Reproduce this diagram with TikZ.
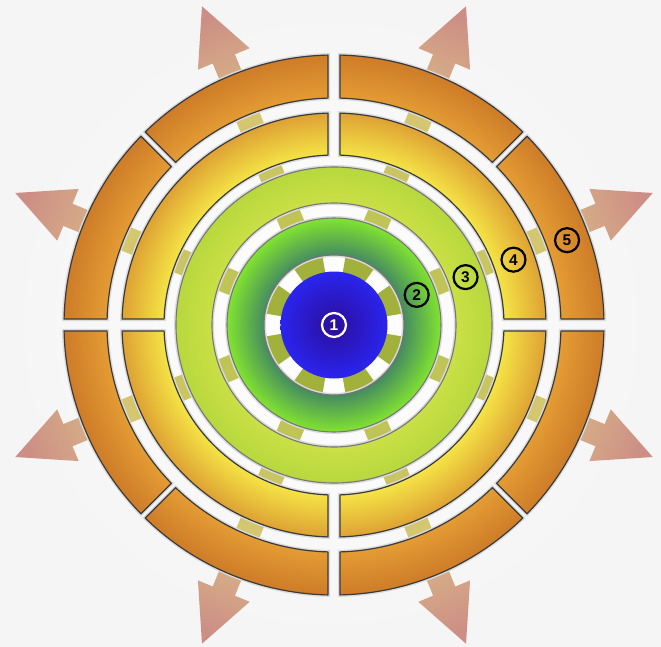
\documentclass[tikz,border=0pt]{standalone}
\usepackage{fontspec}
\setmainfont{Liberation Sans}
\usetikzlibrary{calc}
\definecolor{orIn}{RGB}{228,156,52}
\definecolor{orOut}{RGB}{206,124,40}
\definecolor{yeIn}{RGB}{245,228,70}
\definecolor{yeOut}{RGB}{222,162,52}
\definecolor{lgIn}{RGB}{202,224,70}
\definecolor{lgOut}{RGB}{184,216,62}
\definecolor{dgIn}{RGB}{70,140,96}
\definecolor{dgOut}{RGB}{128,226,48}
\definecolor{blIn}{RGB}{44,14,156}
\definecolor{blOut}{RGB}{42,36,238}
\definecolor{olive1}{RGB}{162,176,60}
\definecolor{spIn}{RGB}{190,196,84}
\definecolor{spOut}{RGB}{218,198,118}
\definecolor{arIn}{RGB}{210,166,116}
\definecolor{arOut}{RGB}{198,124,114}
\definecolor{segline}{RGB}{58,58,58}
\definecolor{ringline}{RGB}{118,118,118}
\pgfdeclareradialshading{orR}{\pgfpoint{0bp}{0bp}}{color(0bp)=(orIn); color(226bp)=(orIn); color(269bp)=(orOut); color(276bp)=(orOut)}
\pgfdeclareradialshading{yeR}{\pgfpoint{0bp}{0bp}}{color(0bp)=(yeIn); color(169bp)=(yeIn); color(211bp)=(yeOut); color(216bp)=(yeOut)}
\pgfdeclareradialshading{lgR}{\pgfpoint{0bp}{0bp}}{color(0bp)=(lgIn); color(121bp)=(lgIn); color(157bp)=(lgOut); color(162bp)=(lgOut)}
\pgfdeclareradialshading{dgR}{\pgfpoint{0bp}{0bp}}{color(0bp)=(dgIn); color(70bp)=(dgIn); color(106bp)=(dgOut); color(112bp)=(dgOut)}
% segment: #1 start angle, #2 end angle, #3 inner r, #4 outer r, #5 start half gap, #6 end half gap
\newcommand\ringseg[6]{({#1+asin(#5/#3)}:#3pt) -- ({#1+asin(#5/#4)}:#4pt)
  arc[start angle={#1+asin(#5/#4)}, end angle={#2-asin(#6/#4)}, radius=#4pt]
  -- ({#2-asin(#6/#3)}:#3pt)
  arc[start angle={#2-asin(#6/#3)}, end angle={#1+asin(#5/#3)}, radius=#3pt] -- cycle }
\newcommand\yellowsegs{\ringseg{0}{90}{170}{212}{6}{6} \ringseg{90}{180}{170}{212}{6}{6}
  \ringseg{180}{270}{170}{212}{6}{6} \ringseg{270}{360}{170}{212}{6}{6}}
\newcommand\orangesegs{\ringseg{0}{45}{227}{270}{6}{3} \ringseg{45}{90}{227}{270}{3}{6}
  \ringseg{90}{135}{227}{270}{6}{3} \ringseg{135}{180}{227}{270}{3}{6}
  \ringseg{180}{225}{227}{270}{6}{3} \ringseg{225}{270}{227}{270}{3}{6}
  \ringseg{270}{315}{227}{270}{6}{3} \ringseg{315}{360}{227}{270}{3}{6}}
\tikzset{
  halo/.style={draw=black!14, line width=4pt},
  seglinestyle/.style={draw=segline, line width=1.2pt, line join=round},
  ringlinestyle/.style={draw=ringline, line width=1.1pt},
  numlabel/.style={circle, draw=black, line width=2.2pt, inner sep=0pt, minimum size=24pt,
    font=\bfseries\fontsize{15.5}{15.5}\selectfont, text=black},
  centerlabel/.style={numlabel, draw=white, text=white}
}
\begin{document}
\begin{tikzpicture}[x=1pt,y=1pt]
\useasboundingbox (-334,-321) rectangle (327,325);
\shade[inner color=white, outer color=black!4] (-334,-321) rectangle (327,325);

% spokes in the gaps
\foreach \t [evaluate=\t as \sa using \t-90] in {22.5,67.5,...,337.5}{
  \shade[bottom color=spIn, top color=spOut, shading angle=\sa]
    ($(\t:95pt)+(\t+90:12.5pt)$) -- ($(\t:258pt)+(\t+90:12.5pt)$)
    -- ($(\t:258pt)+(\t-90:12.5pt)$) -- ($(\t:95pt)+(\t-90:12.5pt)$) -- cycle;
}
% arrows
\foreach \t [evaluate=\t as \sa using \t-90] in {22.5,67.5,...,337.5}{
  \shade[bottom color=arIn, top color=arOut, shading angle=\sa, opacity=0.85]
    ($(\t:252pt)+(\t+90:12pt)$) -- ($(\t:288pt)+(\t+90:12pt)$)
    -- ($(\t:288pt)+(\t+90:28pt)$) -- (\t:345pt)
    -- ($(\t:288pt)+(\t-90:28pt)$) -- ($(\t:288pt)+(\t-90:12pt)$)
    -- ($(\t:252pt)+(\t-90:12pt)$) -- cycle;
}

% inner olive wedges around the core
\foreach \t in {22.5,67.5,...,337.5}{
  \fill[olive1] (\t-13:52pt) arc[start angle=\t-13, end angle=\t+13, radius=52pt]
    -- (\t+13:71pt) arc[start angle=\t+13, end angle=\t-13, radius=71pt] -- cycle;
}

% blue core
\shade[inner color=blIn, outer color=blOut] (0,0) circle[radius=53.5pt];

% dark green ring
\draw[halo] (0,0) circle[radius=107pt] (0,0) circle[radius=70pt];
\begin{scope}[even odd rule]
  \clip (0,0) circle[radius=107pt] (0,0) circle[radius=70pt];
  \pgftext{\pgfuseshading{dgR}}
\end{scope}
\draw[ringlinestyle] (0,0) circle[radius=107pt] (0,0) circle[radius=70pt];

% light green ring
\draw[halo] (0,0) circle[radius=158pt] (0,0) circle[radius=122pt];
\begin{scope}[even odd rule]
  \clip (0,0) circle[radius=158pt] (0,0) circle[radius=122pt];
  \pgftext{\pgfuseshading{lgR}}
\end{scope}
\draw[ringlinestyle] (0,0) circle[radius=158pt] (0,0) circle[radius=122pt];

% yellow segments
\draw[halo] \yellowsegs;
\begin{scope}
  \clip \yellowsegs;
  \pgftext{\pgfuseshading{yeR}}
\end{scope}
\draw[seglinestyle] \yellowsegs;

% orange segments
\draw[halo] \orangesegs;
\begin{scope}
  \clip \orangesegs;
  \pgftext{\pgfuseshading{orR}}
\end{scope}
\draw[seglinestyle] \orangesegs;

% labels
\node[centerlabel] (n1) at (0,0) {1};
\node[numlabel] (n2) at (20:88pt) {2};
\node[numlabel] (n3) at (20:140pt) {3};
\node[numlabel] (n4) at (20:191pt) {4};
\node[numlabel] (n5) at (20:248pt) {5};
\end{tikzpicture}
\end{document}
